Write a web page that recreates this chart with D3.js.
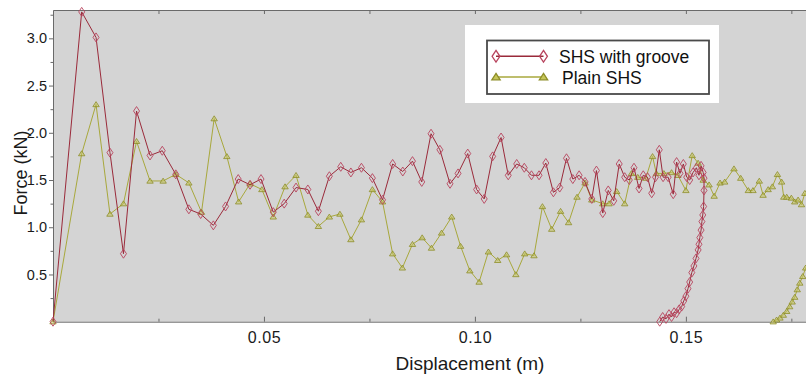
<!DOCTYPE html>
<html>
<head>
<meta charset="utf-8">
<script src="https://cdnjs.cloudflare.com/ajax/libs/d3/7.8.5/d3.min.js"></script>
<style>
  body { margin: 0; background: #fff; }
  svg { display: block; font-family: "Liberation Sans", Arial, sans-serif; }
</style>
</head>
<body>
<div id="wrapper"></div>
<script>
// series names (legend)
var seriesNames = ["SHS with groove", "Plain SHS"];

// SHS with groove : displacement (m) / force (kN)
var grooveDisp = [0, 0.0068, 0.0102, 0.0135, 0.0167, 0.0198, 0.0230, 0.0259, 0.0291, 0.0322,
  0.0350, 0.0380, 0.0409, 0.0439, 0.0467, 0.0493, 0.0522, 0.0548, 0.0576, 0.0604,
  0.0629, 0.0655, 0.0682, 0.0706, 0.0731, 0.0757, 0.0781, 0.0805, 0.0829, 0.0852,
  0.0874, 0.0896, 0.0917, 0.0941, 0.0960, 0.0983, 0.1004, 0.1022, 0.1042, 0.1062,
  0.1079, 0.1099, 0.1117, 0.1134, 0.1152, 0.1168, 0.1186, 0.1201, 0.1217, 0.1232,
  0.1247, 0.1261, 0.1277, 0.1288, 0.1303, 0.1316, 0.1329, 0.1342, 0.1355, 0.1366,
  0.1377, 0.1389, 0.1399, 0.1409, 0.1419, 0.1428, 0.1437, 0.1446, 0.1458, 0.1470,
  0.1478, 0.1486, 0.1494, 0.1502, 0.1509, 0.1517, 0.1525, 0.1531, 0.1536, 0.1541,
  0.1543, 0.1543, 0.1542, 0.1540, 0.1538, 0.1536, 0.1533, 0.1531, 0.1529, 0.1524,
  0.1519, 0.1514, 0.1509, 0.1505, 0.1500, 0.1495, 0.1490, 0.1484, 0.1478, 0.1472,
  0.1466, 0.1460, 0.1453, 0.1445, 0.1438];
var grooveForce = [0, 3.28, 3.01, 1.79, 0.72, 2.23, 1.76, 1.81, 1.56, 1.19,
  1.14, 1.02, 1.22, 1.51, 1.45, 1.51, 1.16, 1.25, 1.42, 1.40,
  1.17, 1.54, 1.64, 1.58, 1.63, 1.52, 1.29, 1.67, 1.59, 1.70,
  1.48, 1.99, 1.82, 1.46, 1.57, 1.78, 1.40, 1.30, 1.75, 1.95,
  1.55, 1.67, 1.63, 1.55, 1.55, 1.68, 1.37, 1.42, 1.73, 1.51,
  1.55, 1.48, 1.30, 1.60, 1.15, 1.39, 1.28, 1.67, 1.53, 1.50,
  1.63, 1.41, 1.55, 1.53, 1.36, 1.53, 1.82, 1.53, 1.53, 1.35,
  1.69, 1.57, 1.67, 1.53, 1.50, 1.58, 1.63, 1.55, 1.65, 1.58,
  1.52, 1.39, 1.22, 1.13, 1.06, 0.97, 0.89, 0.82, 0.76, 0.67,
  0.59, 0.52, 0.42, 0.35, 0.27, 0.22, 0.16, 0.13, 0.09, 0.10,
  0.05, 0.08, 0.03, 0.05, 0.00];

// Plain SHS : displacement (m) / force (kN)
var plainDisp = [0, 0.0068, 0.0102, 0.0135, 0.0167, 0.0198, 0.0230, 0.0261, 0.0291, 0.0322,
  0.0352, 0.0382, 0.0412, 0.0440, 0.0467, 0.0495, 0.0522, 0.0550, 0.0576, 0.0604,
  0.0629, 0.0655, 0.0680, 0.0706, 0.0731, 0.0757, 0.0781, 0.0805, 0.0828, 0.0852,
  0.0875, 0.0897, 0.0921, 0.0945, 0.0966, 0.0988, 0.1010, 0.1032, 0.1054, 0.1075,
  0.1097, 0.1118, 0.1140, 0.1160, 0.1182, 0.1203, 0.1222, 0.1242, 0.1261, 0.1277,
  0.1303, 0.1318, 0.1336, 0.1355, 0.1371, 0.1386, 0.1405, 0.1421, 0.1430, 0.1448,
  0.1466, 0.1481, 0.1500, 0.1515, 0.1529, 0.1541, 0.1555, 0.1567, 0.1581, 0.1592,
  0.1614, 0.1630, 0.1648, 0.1659, 0.1674, 0.1683, 0.1695, 0.1705, 0.1717, 0.1727,
  0.1732, 0.1739, 0.1750, 0.1758, 0.1766, 0.1774, 0.1782, 0.1795, 0.1810, 0.1820,
  0.1815, 0.1784, 0.1777, 0.1770, 0.1764, 0.1758, 0.1752, 0.1746, 0.1739, 0.1731,
  0.1723, 0.1715, 0.1707];
var plainForce = [0, 1.78, 2.30, 1.14, 1.25, 1.91, 1.49, 1.49, 1.56, 1.47,
  1.16, 2.15, 1.75, 1.27, 1.46, 1.40, 1.11, 1.43, 1.55, 1.13,
  1.01, 1.11, 1.14, 0.87, 1.08, 1.40, 1.27, 0.72, 0.57, 0.82,
  0.89, 0.78, 0.94, 1.11, 0.80, 0.54, 0.42, 0.74, 0.65, 0.71,
  0.50, 0.72, 0.70, 1.22, 0.98, 1.17, 1.05, 1.32, 1.47, 1.29,
  1.25, 1.25, 1.38, 1.25, 1.57, 1.53, 1.52, 1.75, 1.57, 1.57,
  1.58, 1.55, 1.39, 1.76, 1.68, 1.50, 1.45, 1.33, 1.47, 1.48,
  1.62, 1.52, 1.39, 1.39, 1.49, 1.34, 1.40, 1.43, 1.56, 1.48,
  1.32, 1.32, 1.31, 1.27, 1.29, 1.24, 1.36, 1.28, 1.20, 0.95,
  0.75, 0.57, 0.48, 0.41, 0.34, 0.26, 0.21, 0.16, 0.11, 0.07,
  0.04, 0.02, 0.00];

// tick values
var xTickLabels = [0.05, 0.10, 0.15];
var xMinorTicks = [0.025, 0.075, 0.125, 0.175];
var xTopTicks = [0.025, 0.05, 0.075, 0.10, 0.125, 0.15, 0.175];
var yTickLabels = [0.5, 1.0, 1.5, 2.0, 2.5, 3.0];
var yMinorTicks = [0.25, 0.75, 1.25, 1.75, 2.25, 2.75, 3.25];

var W = 806, H = 374;
var margin = {top: 10, left: 53, bottom: 52};
var plotRight = 823;   // plot runs past the picture edge (cropped)

var redLine = "#9a2a3a", redMark = "#b8445e";
var grnLine = "#a8a83c", grnMark = "#8e8e28", grnFill = "#c6c65a";

var svg = d3.select("#wrapper").append("svg")
    .attr("width", W)
    .attr("height", H);

var x = d3.scaleLinear().domain([0, 0.1825]).range([margin.left, plotRight]);
var y = d3.scaleLinear().domain([0, 3.3]).range([H - margin.bottom - 0.3, margin.top]);

var groove = grooveDisp.map(function (d, i) { return {x: d, y: grooveForce[i]}; });
var plain = plainDisp.map(function (d, i) { return {x: d, y: plainForce[i]}; });

// plot background
svg.append("rect")
    .attr("x", x(0)).attr("y", y(3.3))
    .attr("width", x(0.1825) - x(0)).attr("height", y(0) - y(3.3))
    .attr("fill", "#d4d4d4");

// axes
var axisCol = "#6a6a6a";
function styleAxis(g) {
  g.selectAll("path, line").attr("stroke", axisCol);
  g.selectAll("text").attr("fill", "#1a1a1a");
}

var gx = svg.append("g")
    .attr("transform", "translate(0," + y(0) + ")")
    .call(d3.axisBottom(x).tickValues(xTickLabels).tickSize(-5).tickSizeOuter(0)
      .tickPadding(10).tickFormat(d3.format(".2f")));
gx.selectAll("text").attr("font-size", "16px").attr("letter-spacing", "0.6px");
styleAxis(gx);
svg.append("g")
    .attr("transform", "translate(0," + y(0) + ")")
    .call(d3.axisBottom(x).tickValues(xMinorTicks).tickSize(-3).tickFormat(""))
    .call(function (g) { g.select(".domain").remove(); styleAxis(g); });

var gt = svg.append("g")
    .attr("transform", "translate(0," + y(3.3) + ")")
    .call(d3.axisTop(x).tickValues(xTopTicks).tickSize(-4).tickSizeOuter(0).tickFormat(""));
styleAxis(gt);

var gy = svg.append("g")
    .attr("transform", "translate(" + x(0) + ",0)")
    .call(d3.axisLeft(y).tickValues(yTickLabels).tickSize(4).tickSizeOuter(0)
      .tickPadding(2).tickFormat(d3.format(".1f")));
gy.selectAll("text").attr("font-size", "14.5px");
styleAxis(gy);
svg.append("g")
    .attr("transform", "translate(" + x(0) + ",0)")
    .call(d3.axisLeft(y).tickValues(yMinorTicks).tickSize(2.5).tickFormat(""))
    .call(function (g) { g.select(".domain").remove(); styleAxis(g); });

// axis titles
svg.append("text")
    .attr("x", 470).attr("y", 370)
    .attr("text-anchor", "middle")
    .attr("font-size", "19px")
    .attr("fill", "#1a1a1a")
    .text("Displacement (m)");

svg.append("text")
    .attr("transform", "translate(27,173) rotate(-90)")
    .attr("text-anchor", "middle")
    .attr("font-size", "18px")
    .attr("fill", "#1a1a1a")
    .text("Force (kN)");

// markers
var diamond = "M0,-4.5L3,0L0,4.5L-3,0Z";
var triangle = "M0,-2.8L3.2,2.2L-3.2,2.2Z";

var line = d3.line()
    .x(function (d) { return x(d.x); })
    .y(function (d) { return y(d.y); });

svg.append("path").datum(plain)
    .attr("d", line).attr("fill", "none")
    .attr("stroke", grnLine).attr("stroke-width", 1);
svg.selectAll(".tri").data(plain).enter().append("path")
    .attr("class", "tri")
    .attr("transform", function (d) { return "translate(" + x(d.x) + "," + y(d.y) + ")"; })
    .attr("d", triangle)
    .attr("fill", grnFill).attr("fill-opacity", 0.5)
    .attr("stroke", grnMark).attr("stroke-width", 0.8);

svg.append("path").datum(groove)
    .attr("d", line).attr("fill", "none")
    .attr("stroke", redLine).attr("stroke-width", 1);
svg.selectAll(".dia").data(groove).enter().append("path")
    .attr("class", "dia")
    .attr("transform", function (d) { return "translate(" + x(d.x) + "," + y(d.y) + ")"; })
    .attr("d", diamond)
    .attr("fill", "none")
    .attr("stroke", redMark).attr("stroke-width", 0.9);

// legend
var lg = svg.append("g");
lg.append("rect")
    .attr("x", 465).attr("y", 25).attr("width", 254).attr("height", 78)
    .attr("fill", "#fff");
lg.append("rect")
    .attr("x", 487).attr("y", 40.5).attr("width", 222).attr("height", 53.5)
    .attr("fill", "#fff").attr("stroke", "#4a4a4a").attr("stroke-width", 1.8);

var legendRows = [
  {name: seriesNames[0], cy: 56.3, lc: redLine, shape: diamond, fill: "none", sc: redMark, tx: 559},
  {name: seriesNames[1], cy: 77, lc: grnLine, shape: triangle, fill: grnFill, sc: grnMark, tx: 562}
];
legendRows.forEach(function (r) {
  lg.append("line")
      .attr("x1", 496).attr("x2", 543.5)
      .attr("y1", r.cy).attr("y2", r.cy)
      .attr("stroke", r.lc).attr("stroke-width", 1.4);
  [496, 543.5].forEach(function (mx) {
    lg.append("path")
        .attr("transform", "translate(" + mx + "," + r.cy + ") scale(1.3)")
        .attr("d", r.shape)
        .attr("fill", r.fill)
        .attr("stroke", r.sc).attr("stroke-width", 1);
  });
  lg.append("text")
      .attr("x", r.tx).attr("y", r.cy + 7)
      .attr("font-size", "17.5px")
      .attr("fill", "#111")
      .text(r.name);
});
</script>
</body>
</html>
